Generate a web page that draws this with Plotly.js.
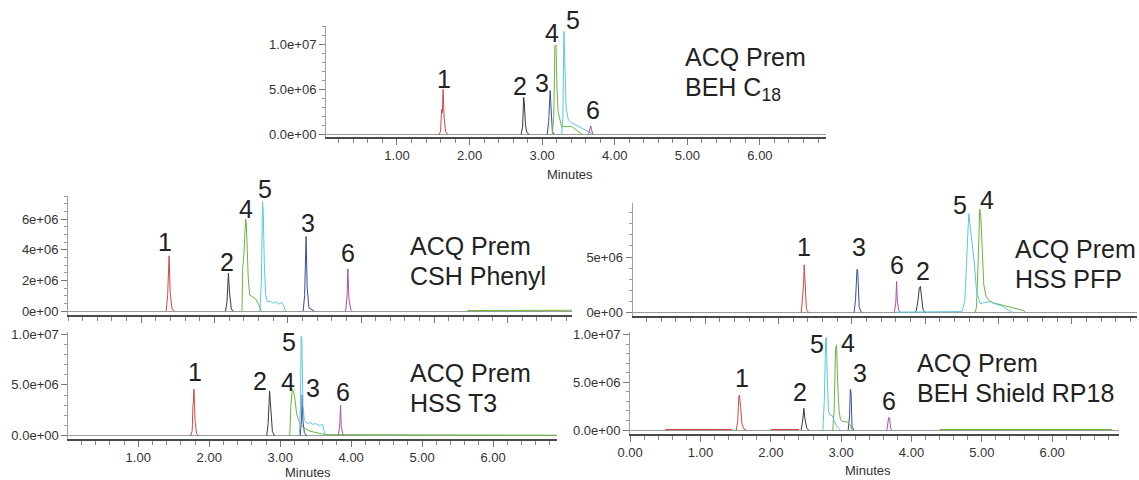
<!DOCTYPE html>
<html><head><meta charset="utf-8">
<script src="https://cdn.plot.ly/plotly-3.0.1.min.js"></script>
<style>html,body{margin:0;padding:0;background:#fff}#chart{width:1139px;height:480px}</style>
</head><body><div id="chart"></div>
<script>
// ---------- DATA (minutes, intensity) ----------
// Panel 1: ACQ Prem BEH C18
const c18_p1_t = [1.58, 1.60, 1.615, 1.625, 1.635, 1.65, 1.67, 1.70];
const c18_p1_i = [0, 0.3e6, 2.8e6, 2.4e6, 5.03e6, 1.8e6, 0.3e6, 0];
const c18_p2_t = [2.71, 2.73, 2.745, 2.755, 2.77, 2.79, 2.82];
const c18_p2_i = [0, 0.8e6, 4.14e6, 3.4e6, 1.0e6, 0.2e6, 0];
const c18_p3_t = [3.07, 3.09, 3.11, 3.125, 3.14, 3.17];
const c18_p3_i = [0, 1.5e6, 4.9e6, 2.0e6, 0.3e6, 0];
const c18_p4_t = [3.14, 3.16, 3.175, 3.19, 3.205, 3.22, 3.24, 3.27, 3.30, 3.35, 3.40, 3.45, 3.50, 3.55];
const c18_p4_i = [0, 2.0e6, 9.9e6, 10.0e6, 5.0e6, 2.5e6, 1.8e6, 0.8e6, 0.9e6, 0.85e6, 0.9e6, 0.6e6, 0.2e6, 0];
const c18_p5_t = [3.27, 3.285, 3.30, 3.31, 3.33, 3.36, 3.40, 3.45, 3.50, 3.55, 3.60, 3.66, 3.70];
const c18_p5_i = [0, 2.0e6, 11.5e6, 8.0e6, 3.0e6, 1.6e6, 1.3e6, 1.1e6, 0.9e6, 0.7e6, 0.5e6, 0.2e6, 0];
const c18_p6_t = [3.64, 3.66, 3.67, 3.68, 3.70];
const c18_p6_i = [0, 0.9e6, 0.93e6, 0.5e6, 0];

// Panel 2: ACQ Prem CSH Phenyl
const csh_p1_t = [1.34, 1.36, 1.38, 1.395, 1.42, 1.45];
const csh_p1_i = [0, 1.0e6, 3.6e6, 1.2e6, 0.15e6, 0];
const csh_p2_t = [2.15, 2.17, 2.19, 2.205, 2.23, 2.26];
const csh_p2_i = [0, 0.6e6, 2.46e6, 1.2e6, 0.1e6, 0];
const csh_p3_t = [3.21, 3.23, 3.25, 3.265, 3.29, 3.33, 3.36];
const csh_p3_i = [0, 1.0e6, 4.86e6, 1.5e6, 0.2e6, 0.1e6, 0];
const csh_p4_t = [2.375, 2.385, 2.40, 2.425, 2.435, 2.46, 2.48, 2.52, 2.56, 2.60, 2.64, null, 5.45, 6.20, 6.88];
const csh_p4_i = [0, 2.8e6, 3.6e6, 6.0e6, 5.6e6, 2.2e6, 1.05e6, 0.95e6, 0.8e6, 0.45e6, 0, null, 0.03e6, 0.03e6, 0.05e6];
const csh_p5_t = [2.62, 2.64, 2.655, 2.665, 2.68, 2.70, 2.72, 2.76, 2.80, 2.84, 2.88, 2.92, 2.95, 2.97];
const csh_p5_i = [0, 2.0e6, 7.14e6, 6.5e6, 3.0e6, 1.0e6, 0.6e6, 0.65e6, 0.5e6, 0.6e6, 0.45e6, 0.55e6, 0.3e6, 0];
const csh_p6_t = [3.79, 3.81, 3.82, 3.835, 3.86, 3.88];
const csh_p6_i = [0, 1.0e6, 2.75e6, 0.8e6, 0.1e6, 0];

// Panel 3: ACQ Prem HSS T3
const t3_p1_t = [1.74, 1.76, 1.77, 1.775, 1.785, 1.80, 1.82, 1.85];
const t3_p1_i = [0, 0.5e6, 3.0e6, 3.2e6, 4.57e6, 1.5e6, 0.2e6, 0];
const t3_p2_t = [2.81, 2.83, 2.85, 2.87, 2.89, 2.92];
const t3_p2_i = [0, 1.2e6, 4.4e6, 2.0e6, 0.4e6, 0];
const t3_p3_t = [3.28, 3.30, 3.31, 3.32, 3.34, 3.37];
const t3_p3_i = [0, 1.5e6, 4.0e6, 1.5e6, 0.3e6, 0];
const t3_p4_t = [3.135, 3.15, 3.17, 3.19, 3.21, 3.23, 3.26, 3.30, 3.35, 3.40, 3.45, 3.50, 3.60, 3.70, 4.50, 5.50, 6.88];
const t3_p4_i = [0, 3.0e6, 4.6e6, 4.3e6, 3.5e6, 2.2e6, 1.5e6, 1.0e6, 0.7e6, 0.5e6, 0.4e6, 0.3e6, 0.15e6, 0.1e6, 0.1e6, 0.08e6, 0.05e6];
const t3_p5_t = [3.27, 3.285, 3.295, 3.305, 3.32, 3.34, 3.38, 3.42, 3.46, 3.50, 3.55, 3.60, 3.63];
const t3_p5_i = [0, 3.0e6, 9.75e6, 9.5e6, 3.0e6, 1.5e6, 1.2e6, 1.3e6, 1.1e6, 1.2e6, 1.0e6, 1.1e6, 0];
const t3_p6_t = [3.82, 3.84, 3.85, 3.86, 3.88, 3.90];
const t3_p6_i = [0, 1.2e6, 3.0e6, 1.0e6, 0.2e6, 0];

// Panel 4: ACQ Prem HSS PFP
const pfp_p1_t = [2.31, 2.33, 2.34, 2.35, 2.36, 2.38, 2.41];
const pfp_p1_i = [0, 1.5e6, 2.5e6, 4.3e6, 2.5e6, 0.3e6, 0];
const pfp_p2_t = [3.85, 3.88, 3.90, 3.92, 3.935, 3.95, 3.97, 4.00];
const pfp_p2_i = [0, 0.2e6, 1.0e6, 2.2e6, 2.35e6, 1.4e6, 0.3e6, 0];
const pfp_p3_t = [3.03, 3.05, 3.07, 3.08, 3.10, 3.13];
const pfp_p3_i = [0, 1.2e6, 3.9e6, 3.7e6, 0.5e6, 0];
const pfp_p4_t = [4.68, 4.70, 4.72, 4.745, 4.76, 4.78, 4.80, 4.83, 4.87, 4.92, 4.98, 5.05, 5.12, 5.20, 5.28, 5.34, 5.37];
const pfp_p4_i = [0, 0.5e6, 4.0e6, 9.3e6, 8.5e6, 5.0e6, 2.5e6, 1.5e6, 1.1e6, 0.9e6, 0.8e6, 0.7e6, 0.6e6, 0.5e6, 0.35e6, 0.2e6, 0];
const pfp_p5_t = [3.60, 4.50, 4.54, 4.57, 4.595, 4.61, 4.64, 4.67, 4.70, 4.75, 4.80, 4.88, 4.95, 5.05, 5.12, 5.20];
const pfp_p5_i = [0.05e6, 0.1e6, 1.0e6, 5.0e6, 8.9e6, 8.0e6, 6.5e6, 4.5e6, 2.0e6, 0.8e6, 0.9e6, 1.0e6, 0.8e6, 0.6e6, 0.3e6, 0];
const pfp_p6_t = [3.58, 3.60, 3.61, 3.62, 3.64, 3.67];
const pfp_p6_i = [0, 1.0e6, 2.8e6, 1.0e6, 0.2e6, 0];

// Panel 5: ACQ Prem BEH Shield RP18
const rp_p1_t = [0.50, 1.45, null, 1.51, 1.53, 1.545, 1.555, 1.57, 1.59, 1.62, 1.65, null, 2.00, 2.40];
const rp_p1_i = [0.05e6, 0.05e6, null, 0, 1.0e6, 3.5e6, 3.68e6, 2.5e6, 0.6e6, 0.1e6, 0, null, 0.05e6, 0.05e6];
const rp_p2_t = [2.43, 2.45, 2.47, 2.485, 2.51, 2.54];
const rp_p2_i = [0, 0.8e6, 2.28e6, 1.2e6, 0.2e6, 0];
const rp_p3_t = [3.10, 3.12, 3.13, 3.14, 3.155, 3.18];
const rp_p3_i = [0, 1.5e6, 4.28e6, 4.0e6, 0.3e6, 0];
const rp_p4_t = [2.88, 2.90, 2.92, 2.935, 2.95, 2.97, 2.99, 3.02, 3.06, 3.10, 3.13, 3.16, null, 4.40, 5.60, 6.85];
const rp_p4_i = [0, 2.0e6, 8.5e6, 8.95e6, 5.0e6, 2.0e6, 1.1e6, 0.9e6, 0.9e6, 0.8e6, 0.5e6, 0, null, 0.05e6, 0.05e6, 0.05e6];
const rp_p5_t = [2.74, 2.76, 2.78, 2.79, 2.80, 2.82, 2.84, 2.87, 2.90, 2.93, 2.96, 2.99];
const rp_p5_i = [0, 3.0e6, 9.5e6, 9.76e6, 6.0e6, 2.0e6, 1.6e6, 1.5e6, 1.0e6, 0.5e6, 0.2e6, 0];
const rp_p6_t = [3.65, 3.665, 3.675, 3.69, 3.70, 3.72];
const rp_p6_i = [0, 1.2e6, 1.29e6, 1.25e6, 0.2e6, 0];

// Peak number labels (data coordinates: minutes, intensity)
const peakNames = ['1', '2', '3', '4', '5', '6'];
const c18_lab_t = [1.65, 2.69, 3.00, 3.13, 3.42, 3.70];
const c18_lab_i = [6.19e6, 5.4e6, 5.79e6, 11.35e6, 12.8e6, 2.72e6];
const csh_lab_t = [1.32, 2.17, 3.27, 2.43, 2.69, 3.82];
const csh_lab_i = [4.48e6, 3.17e6, 5.75e6, 6.67e6, 7.97e6, 3.79e6];
const t3_lab_t = [1.80, 2.72, 3.46, 3.11, 3.13, 3.89];
const t3_lab_i = [6.3e6, 5.41e6, 4.74e6, 5.24e6, 9.17e6, 4.25e6];
const pfp_lab_t = [2.35, 3.97, 3.10, 4.84, 4.47, 3.61];
const pfp_lab_i = [5.9e6, 3.74e6, 5.9e6, 10.1e6, 9.67e6, 4.28e6];
const rp_lab_t = [1.59, 2.41, 3.27, 3.10, 2.65, 3.68];
const rp_lab_i = [5.47e6, 4.03e6, 6.0e6, 9.16e6, 9.05e6, 3.05e6];

// Tick labels
const xTickVals = [1, 2, 3, 4, 5, 6];
const xTickText = ['1.00', '2.00', '3.00', '4.00', '5.00', '6.00'];
const xTickValsZero = [0, 1, 2, 3, 4, 5, 6];
const xTickTextZero = ['0.00', '1.00', '2.00', '3.00', '4.00', '5.00', '6.00'];
const yTickVals10 = [0, 5e6, 1e7];
const yTickText10 = ['0.0e+00', '5.0e+06', '1.0e+07'];
const yTickValsCsh = [0, 2e6, 4e6, 6e6];
const yTickTextCsh = ['0e+00', '2e+06', '4e+06', '6e+06'];
const yTickValsPfp = [0, 5e6];
const yTickTextPfp = ['0e+00', '5e+06'];

const columnNames = [
  ['ACQ Prem', 'BEH C<sub>18</sub>'],
  ['ACQ Prem', 'CSH Phenyl'],
  ['ACQ Prem', 'HSS T3'],
  ['ACQ Prem', 'HSS PFP'],
  ['ACQ Prem', 'BEH Shield RP18']
];
const xAxisName = 'Minutes';

// ---------- BUILD ----------
const W = 1139, H = 480;
const colors = ['#d04848', '#383838', '#3b4c9c', '#6ab53c', '#5ac8e0', '#b04db0'];
const FONT = '"Liberation Sans", Arial, Helvetica, sans-serif';
const px = v => v / W, py = v => 1 - v / H;

const panels = [
  {series: [[c18_p1_t, c18_p1_i], [c18_p2_t, c18_p2_i], [c18_p3_t, c18_p3_i], [c18_p4_t, c18_p4_i], [c18_p5_t, c18_p5_i], [c18_p6_t, c18_p6_i]],
   lab: [c18_lab_t, c18_lab_i], xd: [326, 826], yd: [26, 137.3], xr: [0.022, 6.91], yr: [-0.336e6, 12.11e6],
   ytv: yTickVals10, ytt: yTickText10, ymin: 1e6, xlab: true, xtv: xTickVals, xtt: xTickText,
   name: columnNames[0], nx: 683, ny: [57, 88.7], minutes: [570, 174]},
  {series: [[csh_p1_t, csh_p1_i], [csh_p2_t, csh_p2_i], [csh_p3_t, csh_p3_i], [csh_p4_t, csh_p4_i], [csh_p5_t, csh_p5_i], [csh_p6_t, csh_p6_i]],
   lab: [csh_lab_t, csh_lab_i], xd: [68, 572], yd: [196, 315], xr: [0, 6.88], yr: [-0.26e6, 7.5e6],
   ytv: yTickValsCsh, ytt: yTickTextCsh, ymin: 0.5e6, xlab: false, xtv: xTickVals, xtt: xTickText,
   name: columnNames[1], nx: 407.7, ny: [246, 276]},
  {series: [[t3_p1_t, t3_p1_i], [t3_p2_t, t3_p2_i], [t3_p3_t, t3_p3_i], [t3_p4_t, t3_p4_i], [t3_p5_t, t3_p5_i], [t3_p6_t, t3_p6_i]],
   lab: [t3_lab_t, t3_lab_i], xd: [68.3, 557], yd: [332, 439], xr: [0.014, 6.90], yr: [-0.325e6, 10.2e6],
   ytv: yTickVals10, ytt: yTickText10, ymin: 1e6, xlab: true, xtv: xTickVals, xtt: xTickText,
   name: columnNames[2], nx: 407.7, ny: [372.5, 402.5], minutes: [308, 472]},
  {series: [[pfp_p1_t, pfp_p1_i], [pfp_p2_t, pfp_p2_i], [pfp_p3_t, pfp_p3_i], [pfp_p4_t, pfp_p4_i], [pfp_p5_t, pfp_p5_i], [pfp_p6_t, pfp_p6_i]],
   lab: [pfp_lab_t, pfp_lab_i], xd: [632.5, 1137], yd: [203, 316], xr: [0.007, 6.89], yr: [-0.296e6, 9.85e6],
   ytv: yTickValsPfp, ytt: yTickTextPfp, ymin: 1e6, xlab: false, xtv: xTickVals, xtt: xTickText,
   name: columnNames[3], nx: 1013, ny: [249, 279]},
  {series: [[rp_p1_t, rp_p1_i], [rp_p2_t, rp_p2_i], [rp_p3_t, rp_p3_i], [rp_p4_t, rp_p4_i], [rp_p5_t, rp_p5_i], [rp_p6_t, rp_p6_i]],
   lab: [rp_lab_t, rp_lab_i], xd: [630, 1119], yd: [332, 434], xr: [-0.002, 6.95], yr: [-0.42e6, 10.3e6],
   ytv: yTickVals10, ytt: yTickText10, ymin: 1e6, xlab: true, xtv: xTickValsZero, xtt: xTickTextZero,
   name: columnNames[4], nx: 915, ny: [362.5, 392.5], minutes: [868, 470]}
];

const traces = [];
const layout = {
  width: W, height: H, margin: {l: 0, r: 0, t: 0, b: 0},
  paper_bgcolor: '#fff', plot_bgcolor: '#fff', showlegend: false,
  font: {family: FONT, color: '#333', size: 13},
  annotations: []
};

panels.forEach((p, k) => {
  const n = k === 0 ? '' : String(k + 1);
  const xa = 'x' + n, ya = 'y' + n;
  const xdom = [px(p.xd[0]), px(p.xd[1])], ydom = [py(p.yd[1]), py(p.yd[0])];
  // map data value to paper fraction through this panel's axis scale (labels may sit above the plot top)
  const toPaperX = v => xdom[0] + (v - p.xr[0]) / (p.xr[1] - p.xr[0]) * (xdom[1] - xdom[0]);
  const toPaperY = v => ydom[0] + (v - p.yr[0]) / (p.yr[1] - p.yr[0]) * (ydom[1] - ydom[0]);
  p.series.forEach((s, j) => {
    traces.push({x: s[0], y: s[1], xaxis: xa, yaxis: ya, type: 'scatter', mode: 'lines',
      line: {color: colors[j], width: 1}, hoverinfo: 'skip', connectgaps: false});
  });
  layout['xaxis' + n] = {
    domain: xdom, range: p.xr, anchor: ya,
    showgrid: false, zeroline: false, showline: true, linecolor: '#4a4a4a', linewidth: 1.5,
    ticks: 'outside', ticklen: 6, tickcolor: '#777', tickwidth: 1,
    tickmode: 'array', tickvals: p.xtv, ticktext: p.xtt, showticklabels: p.xlab,
    tickfont: {family: FONT, size: 13, color: '#333'},
    minor: {tickmode: 'linear', tick0: 0, dtick: 0.2, ticks: 'outside', ticklen: 4, tickcolor: '#888', showgrid: false}
  };
  layout['yaxis' + n] = {
    domain: ydom, range: p.yr, anchor: xa,
    showgrid: false, zeroline: true, zerolinecolor: '#9a9a9a', zerolinewidth: 1,
    showline: true, linecolor: '#a0a0a0', linewidth: 1,
    ticks: 'outside', ticklen: 6, tickcolor: '#777', tickwidth: 1,
    tickmode: 'array', tickvals: p.ytv, ticktext: p.ytt,
    tickfont: {family: FONT, size: 13, color: '#333'},
    minor: {tickmode: 'linear', tick0: 0, dtick: p.ymin, ticks: 'outside', ticklen: 3, tickcolor: '#999', showgrid: false}
  };
  // peak numbers
  peakNames.forEach((t, j) => {
    layout.annotations.push({text: t, xref: 'paper', yref: 'paper',
      x: toPaperX(p.lab[0][j]), y: toPaperY(p.lab[1][j]),
      showarrow: false, xanchor: 'center', yanchor: 'middle',
      font: {family: FONT, size: 25, color: '#222'}});
  });
  // column name
  p.name.forEach((t, j) => {
    layout.annotations.push({text: t, xref: 'paper', yref: 'paper', x: px(p.nx), y: py(p.ny[j]),
      showarrow: false, xanchor: 'left', yanchor: 'middle',
      font: {family: FONT, size: 25, color: '#222'}});
  });
  if (p.minutes) {
    layout.annotations.push({text: xAxisName, xref: 'paper', yref: 'paper', x: px(p.minutes[0]), y: py(p.minutes[1]),
      showarrow: false, xanchor: 'center', yanchor: 'middle',
      font: {family: FONT, size: 13, color: '#333'}});
  }
});

Plotly.newPlot('chart', traces, layout, {displayModeBar: false, staticPlot: true});
</script></body></html>
